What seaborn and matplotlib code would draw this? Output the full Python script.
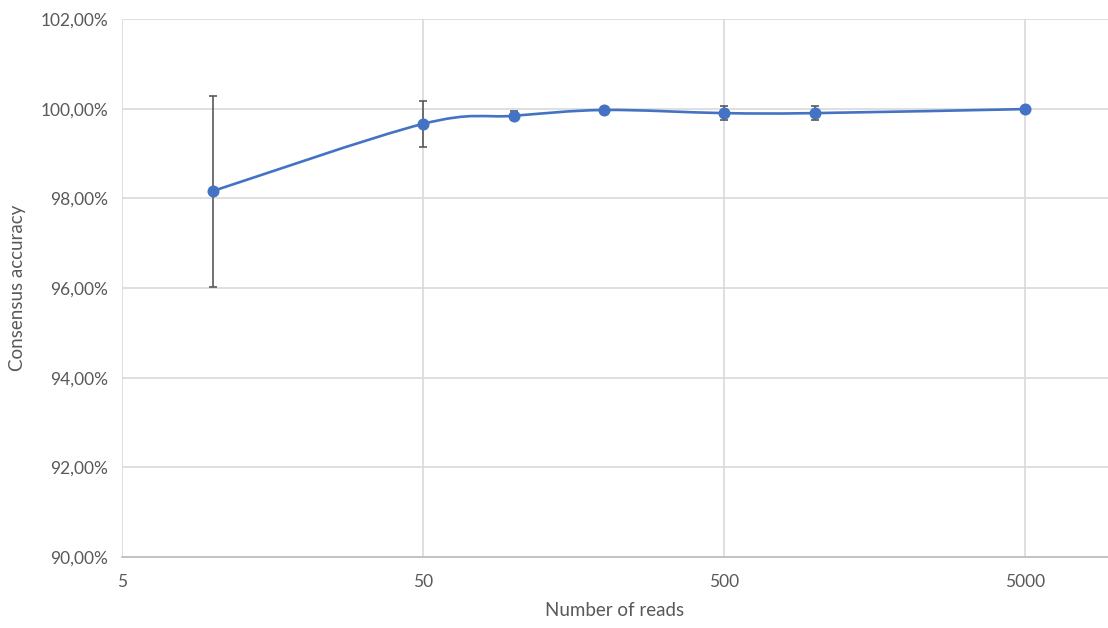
import numpy as np
import matplotlib
matplotlib.use("Agg")
import matplotlib.pyplot as plt
from matplotlib.path import Path
from matplotlib.patches import PathPatch
from matplotlib.ticker import FixedLocator, FuncFormatter
import seaborn as sns

# Data
reads = [10, 50, 100, 200, 500, 1000, 5000]
accuracy = [98.16, 99.66, 99.84, 99.97, 99.90, 99.90, 99.99]
accuracy_err = [2.13, 0.51, 0.10, 0.03, 0.15, 0.15, 0.0]
x_ticks = [5, 50, 500, 5000]
y_ticks = [90, 92, 94, 96, 98, 100, 102]

LINE_COLOR = "#4472C4"
GRID_COLOR = "#D9D9D9"
TEXT_COLOR = "#595959"

sns.set_theme(style="white")
plt.rcParams["font.family"] = ["Lato", "DejaVu Sans"]


def smooth_path(xs, ys):
    """Excel-like smoothed line: Catmull-Rom bezier built in log-x space."""
    u = np.log10(np.asarray(xs, dtype=float))
    v = np.asarray(ys, dtype=float)
    pts = np.column_stack([u, v])
    n = len(pts)
    verts = [pts[0]]
    codes = [Path.MOVETO]
    for i in range(n - 1):
        p0 = pts[i - 1] if i > 0 else pts[i]
        p1 = pts[i]
        p2 = pts[i + 1]
        p3 = pts[i + 2] if i + 2 < n else pts[i + 1]
        c1 = p1 + (p2 - p0) / 6.0
        c2 = p2 - (p3 - p1) / 6.0
        verts += [c1, c2, p2]
        codes += [Path.CURVE4] * 3
    verts = np.array(verts)
    verts[:, 0] = 10 ** verts[:, 0]
    return Path(verts, codes)


fig = plt.figure(figsize=(11.08, 6.28), dpi=100)
ax = fig.add_axes([0.1101, 0.1131, 0.8899, 0.8567])

ax.set_xscale("log")
ax.set_xlim(5, 5 * 10 ** (986 / 301))
ax.set_ylim(90, 102)

# smoothed connecting line
ax.add_patch(PathPatch(smooth_path(reads, accuracy), facecolor="none",
                       edgecolor=LINE_COLOR, lw=1.9, zorder=3,
                       capstyle="round", joinstyle="round"))

# error bars
ax.errorbar(reads, accuracy, yerr=accuracy_err, fmt="none",
            ecolor=TEXT_COLOR, elinewidth=1.2, capsize=3, capthick=1.2,
            zorder=2)

# markers
sns.scatterplot(x=reads, y=accuracy, ax=ax, color=LINE_COLOR, s=75,
                edgecolor=LINE_COLOR, linewidth=0, zorder=4)

ax.xaxis.set_major_locator(FixedLocator(x_ticks))
ax.xaxis.set_minor_locator(FixedLocator([]))
ax.xaxis.set_major_formatter(FuncFormatter(lambda v, p: f"{v:g}"))
ax.yaxis.set_major_locator(FixedLocator(y_ticks))
ax.yaxis.set_major_formatter(FuncFormatter(lambda v, p: f"{v:.2f}".replace(".", ",") + "%"))

ax.grid(True, color=GRID_COLOR, lw=1.2)
ax.set_axisbelow(True)
for side in ["top", "right", "left"]:
    ax.spines[side].set_visible(False)
ax.spines["bottom"].set_color("#BFBFBF")
ax.spines["bottom"].set_linewidth(1.3)

ax.tick_params(axis="both", length=0, labelsize=12.5, colors=TEXT_COLOR)
ax.tick_params(axis="x", pad=12)
ax.tick_params(axis="y", pad=10)

ax.set_xlabel("Number of reads", fontsize=13.5, color=TEXT_COLOR, labelpad=9)
ax.set_ylabel("Consensus accuracy", fontsize=13.5, color=TEXT_COLOR, labelpad=10)

fig.savefig("out.png", dpi=100)
